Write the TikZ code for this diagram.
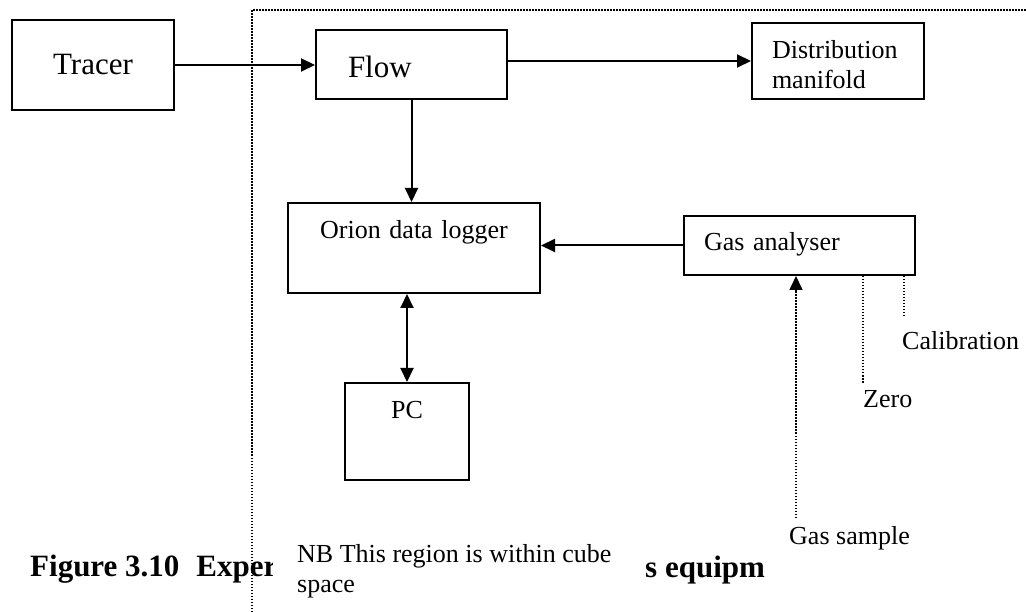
\documentclass[tikz,border=0pt]{standalone}
\usepackage{fontspec}
\setmainfont{Liberation Serif}
\usetikzlibrary{arrows.meta, positioning}

\begin{document}
\begin{tikzpicture}[x=1pt, y=-1pt,
  >={Triangle[length=14pt,width=13pt]},
  box/.style={draw, rectangle, line width=2pt, anchor=north west, inner sep=0pt, font=\fontsize{26}{30}\selectfont},
  big/.style={font=\fontsize{31}{37}\selectfont},
  flowline/.style={line width=2pt},
  dotline/.style={line width=1.6pt, dash pattern=on 1.5pt off 1.5pt},
  lbl/.style={inner sep=0pt, anchor=base west, font=\fontsize{26}{30}\selectfont}]
\useasboundingbox (0,0) rectangle (1026,612);

% Caption (partly hidden)
\node[lbl, font=\fontsize{31}{37}\selectfont\bfseries] (figcap) at (30,576) {Figure 3.10\hspace{17pt}Exper};
\node[lbl, font=\fontsize{31}{37}\selectfont\bfseries] (figrest) at (645,577) {s equipm};

% Cube space
\draw[dotline] (252,612) -- (252,10) -- (1026,10);

% Nodes
\node[box, big, text width=162pt, align=center, text height=55pt, text depth=35pt] (tracer) at (11,19) {Tracer};
\node[box, big, text width=127pt, align=left, inner xsep=32pt, text height=48pt, text depth=21pt] (flow) at (315,29) {Flow};
\node[box, text width=132pt, align=left, inner xsep=20pt, text height=36pt, text depth=40pt] (dist) at (751,22) {Distribution\\manifold};
\node[box, text width=252pt, align=center, text height=36pt, text depth=54pt] (orion) at (287,202) {Orion data logger};
\node[box, text width=191pt, align=left, inner xsep=20pt, text height=35pt, text depth=24pt] (gas) at (683,215) {Gas analyser};
\node[box, text width=124pt, align=center, text height=35pt, text depth=62pt] (pc) at (344,382) {PC};

% Arrows
\draw[flowline, ->] (tracer.east) -- (tracer.east -| flow.west);
\draw[flowline, ->] (dist.west -| flow.east) -- (dist.west);
\draw[flowline, ->] (flow.south) -- (flow.south |- orion.north);
\draw[flowline, ->] (gas.west) -- (gas.west -| orion.east);
\draw[flowline, <->] (pc.north) -- (pc.north |- orion.south);

% Gas lines
\coordinate (sampleend) at (796,518);
\coordinate (zeroend) at (863,384);
\coordinate (calend) at (904,318);
\draw[dotline, ->] (sampleend) -- (sampleend |- gas.south);
\draw[dotline] (zeroend |- gas.south) -- (zeroend);
\draw[dotline] (calend |- gas.south) -- (calend);

% Labels
\node[lbl] (calib) at (902,350) {Calibration};
\node[lbl] (zero) at (863,407) {Zero};
\node[lbl, fill=white, inner xsep=21pt, text depth=40pt] (sample) at (768,544) {Gas sample};
\node[lbl, fill=white, align=left, anchor=north west, inner xsep=24pt, inner ysep=4pt] (nb) at (273,540) {NB This region is within cube\\space};
\end{tikzpicture}
\end{document}
